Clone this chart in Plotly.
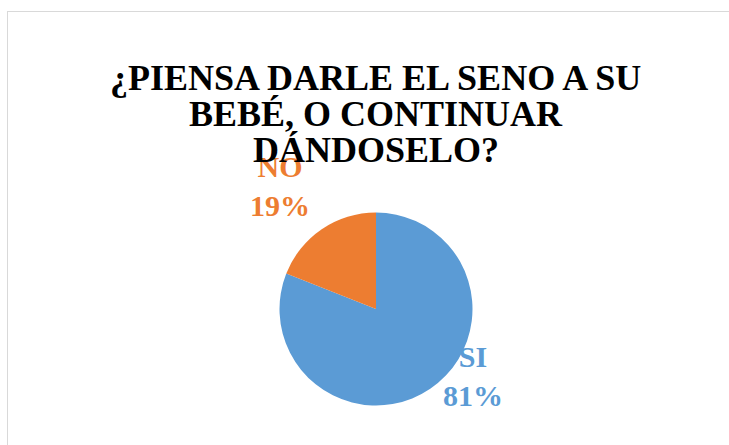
import plotly.graph_objects as go

# Survey answers and their shares (%)
labels = ["SI", "NO"]
values = [81, 19]
colors = ["#5B9BD5", "#ED7D31"]
title_lines = ["¿PIENSA DARLE EL SENO A SU", "BEBÉ, O CONTINUAR", "DÁNDOSELO?"]

W, H = 729, 445


def px(x):
    return x / W


def py(y):
    return 1 - y / H


# pie geometry in pixels
cx, cy, r = 376, 309, 96.5

fig = go.Figure()

# empty cartesian trace so the frame axes get drawn
fig.add_trace(go.Scatter(x=[], y=[], showlegend=False, hoverinfo="skip"))

fig.add_trace(go.Pie(
    labels=labels, values=values, sort=False,
    direction="clockwise", rotation=0,
    marker=dict(colors=colors, line=dict(width=0)),
    textinfo="none", showlegend=False,
    domain=dict(x=[px(cx - r), px(cx + r)], y=[py(cy + r), py(cy - r)]),
))

total = sum(values)
label_pos = {"SI": (473, 414), "NO": (280, 186)}
annotations = []
for lab, val, col in zip(labels, values, colors):
    x, y = label_pos[lab]
    annotations.append(dict(
        text=f"<b>{lab}<br>{round(100 * val / total)}%</b>",
        x=px(x), y=py(y), xref="paper", yref="paper",
        xanchor="center", showarrow=False,
        font=dict(family="Liberation Serif", size=30, color=col),
    ))

title_y = [55.5, 92, 128]
for line, y in zip(title_lines, title_y):
    annotations.append(dict(
        text=f"<b>{line}</b>", x=px(376), y=py(y), xref="paper", yref="paper",
        xanchor="center", showarrow=False,
        font=dict(family="Liberation Serif", size=36, color="#000000"),
    ))

# chart-area frame drawn as the top and left axis lines
frame = dict(showline=True, linecolor="#D9D9D9", linewidth=1, showgrid=False,
             zeroline=False, showticklabels=False, ticks="", fixedrange=True)

fig.update_layout(
    width=W, height=H,
    margin=dict(l=0, r=0, t=0, b=0),
    paper_bgcolor="white", plot_bgcolor="rgba(0,0,0,0)",
    font=dict(family="Liberation Serif"),
    xaxis=dict(domain=[px(8), 1], side="top", range=[0, 1], **frame),
    yaxis=dict(domain=[0, py(12)], side="left", range=[0, 1], **frame),
    annotations=annotations,
)

fig.write_html("out.html")
